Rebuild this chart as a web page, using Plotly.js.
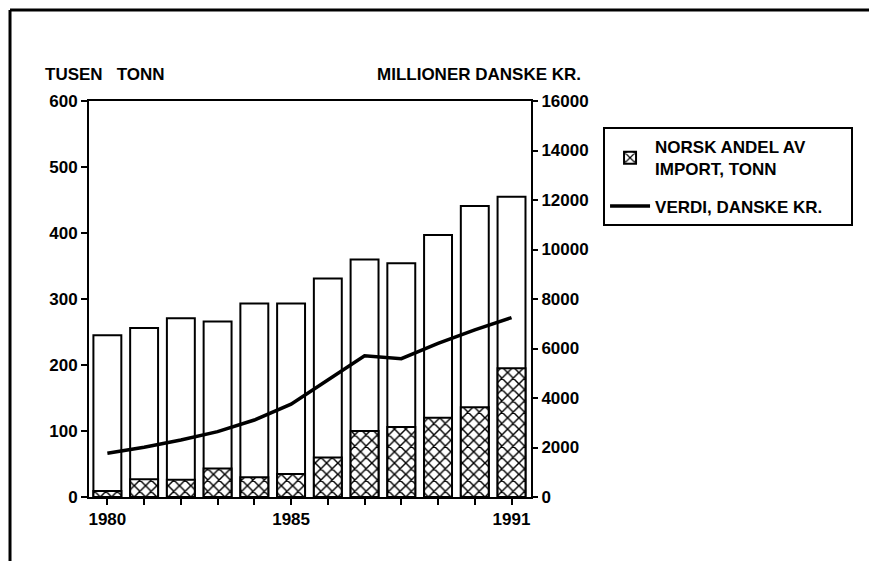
<!DOCTYPE html>
<html>
<head>
<meta charset="utf-8">
<script src="https://cdn.plot.ly/plotly-3.0.1.min.js"></script>
<style>html,body{margin:0;padding:0;background:#fff;}#chart{width:869px;height:561px;}</style>
</head>
<body>
<div id="chart"></div>
<script>
const years = [1980, 1981, 1982, 1983, 1984, 1985, 1986, 1987, 1988, 1989, 1990, 1991];
const yearLabels = ["1980", "", "", "", "", "1985", "", "", "", "", "", "1991"];
const totalImport = [245, 256, 271, 266, 293, 293, 331, 360, 354, 397, 441, 455];
const norskAndel = [9, 27, 26, 43, 30, 35, 60, 100, 106, 120, 136, 195];
const verdiDKK = [1770, 2010, 2300, 2640, 3110, 3750, 4730, 5710, 5590, 6210, 6750, 7250];
const leftTicks = [0, 100, 200, 300, 400, 500, 600];
const rightTicks = [0, 2000, 4000, 6000, 8000, 10000, 12000, 14000, 16000];
const rightTickText = ["0", "2000", "4000", "6000", "8000", "10000", "12000", "14000", "16000"];

const F = {family: 'Liberation Sans, Arial, sans-serif', size: 17, color: '#000', weight: 700};
const NB = '\u00a0';

const traces = [
  {
    type: 'bar', x: years, y: totalImport, width: 0.76, showlegend: false,
    marker: {color: '#fff', line: {color: '#000', width: 2}}, hoverinfo: 'skip'
  },
  {
    type: 'bar', x: years, y: norskAndel, width: 0.76,
    name: 'NORSK ANDEL AV<br>IMPORT, TONN', legendgroup: 'a',
    marker: {color: '#fff', line: {color: '#000', width: 2},
      pattern: {shape: 'x', size: 8, solidity: 0.33, fgcolor: '#000', bgcolor: '#fff', fillmode: 'replace'}}
  },
  {
    type: 'scatter', mode: 'lines', x: years, y: verdiDKK, yaxis: 'y2',
    name: 'VERDI, DANSKE KR.' + NB.repeat(5), legendgroup: 'b',
    line: {color: '#000', width: 3.5}
  }
];

const layout = {
  width: 869, height: 561,
  margin: {l: 89, r: 338, t: 101, b: 64},
  paper_bgcolor: '#fff', plot_bgcolor: '#fff',
  barmode: 'overlay',
  font: F,
  showlegend: true,
  legend: {
    x: 1.163, xanchor: 'left', y: 0.934, yanchor: 'top',
    bordercolor: '#000', borderwidth: 2, bgcolor: '#fff',
    font: F, traceorder: 'grouped', tracegroupgap: 12,
    itemwidth: 40
  },
  xaxis: {
    range: [1979.5, 1991.53], tickvals: years, ticktext: yearLabels,
    ticks: 'outside', ticklen: 6, tickwidth: 2, tickcolor: '#000',
    showline: true, linecolor: '#000', linewidth: 2, mirror: true,
    showgrid: false, zeroline: false, tickfont: F
  },
  yaxis: {
    range: [0, 600], tickvals: leftTicks,
    ticks: 'outside', ticklen: 6, tickwidth: 2, tickcolor: '#000',
    showline: true, linecolor: '#000', linewidth: 2,
    showgrid: false, zeroline: false, tickfont: F
  },
  yaxis2: {
    range: [0, 16000], tickvals: rightTicks, ticktext: rightTickText, overlaying: 'y', side: 'right',
    ticks: 'outside', ticklen: 5, tickwidth: 2, tickcolor: '#000',
    showline: true, linecolor: '#000', linewidth: 2,
    showgrid: false, zeroline: false, tickfont: F
  },
  annotations: [
    {xref: 'paper', yref: 'paper', x: -0.104, y: 1.066, xanchor: 'left', yanchor: 'middle',
     text: 'TUSEN' + NB.repeat(3) + 'TONN', showarrow: false, font: F},
    {xref: 'paper', yref: 'paper', x: 1.118, y: 1.066, xanchor: 'right', yanchor: 'middle',
     text: 'MILLIONER DANSKE KR.', showarrow: false, font: F}
  ],
  shapes: [
    {type: 'line', xref: 'paper', yref: 'paper', x0: -0.1787, x1: 1.8, y0: 1.2298, y1: 1.2298,
     line: {color: '#000', width: 3}},
    {type: 'line', xref: 'paper', yref: 'paper', x0: -0.1787, x1: -0.1787, y0: 1.2298, y1: -0.2,
     line: {color: '#000', width: 3}}
  ]
};

Plotly.newPlot('chart', traces, layout, {displayModeBar: false, staticPlot: true});
</script>
</body>
</html>
